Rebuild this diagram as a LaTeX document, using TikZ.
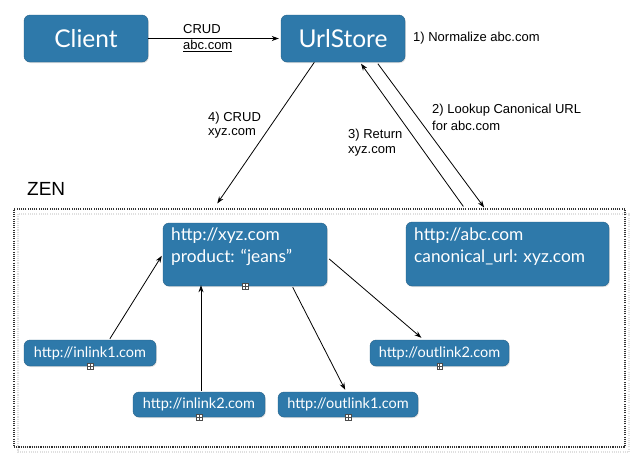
\documentclass[tikz,border=0pt]{standalone}
\usepackage{fontspec}
\setmainfont{Liberation Sans}
\newfontfamily\boxfont{Lato}
\usetikzlibrary{calc,arrows.meta,shadows}
\definecolor{boxblue}{RGB}{46,121,170}
\tikzset{
  bluebox/.style={draw=boxblue!80!black, line width=0.4pt, fill=boxblue, rounded corners=6pt, inner sep=0pt, text=white,
    drop shadow={shadow xshift=0.8pt, shadow yshift=-1pt, opacity=0.25}},
  bigtext/.style={font=\boxfont\fontsize{24.5}{28}\selectfont},
  midtext/.style={text=white, align=left, anchor=west, inner sep=0pt, font=\boxfont\fontsize{17.3}{22}\selectfont},
  smalltext/.style={font=\boxfont\fontsize{14.5}{17}\selectfont},
  lbl/.style={align=left, anchor=west, inner sep=0pt, font=\fontsize{13}{16}\selectfont},
  arr/.style={line width=0.8pt, -{Stealth[length=7pt,width=5pt]}},
  dotline/.style={dash pattern=on 1.1pt off 1.1pt, line width=1.1pt},
  plusicon/.style={draw=black!70, fill=white, minimum size=5.5pt, inner sep=0pt, line width=0.4pt,
    path picture={\draw[black!70, line width=0.4pt] (path picture bounding box.north) -- (path picture bounding box.south)
      (path picture bounding box.west) -- (path picture bounding box.east);}},
}
\begin{document}
\begin{tikzpicture}[x=1pt,y=-1pt]
\useasboundingbox[fill=white] (0,0) rectangle (633,464);

% ZEN container
\draw[gray!25, dotline] (18,214) rectangle (629,452);
\node[draw=black!80, dotline, minimum width=611pt, minimum height=238pt, inner sep=0pt] (zen) at (319.5,328) {};
\node[anchor=west, inner sep=0pt, font=\fontsize{19}{20}\selectfont] (zenlbl) at (27,189) {ZEN};

% top boxes
\node[bluebox, bigtext, minimum width=124pt, minimum height=47pt] (client) at (86,38.5) {Client};
\node[bluebox, bigtext, minimum width=124pt, minimum height=47pt] (url) at (343,38.5) {UrlStore};

% inner boxes
\node[bluebox, minimum width=164pt, minimum height=63pt] (xyz) at (245,254.5) {};
\node[midtext] (xyzt) at (171,247) {http://xyz.com\\product: “jeans”};
\node[bluebox, minimum width=203pt, minimum height=64pt] (abc) at (507.5,254) {};
\node[midtext] (abct) at (414,247) {http://abc.com\\canonical\_url: xyz.com};

\node[bluebox, smalltext, minimum width=132pt, minimum height=26pt] (in1) at (90,353) {http://inlink1.com};
\node[bluebox, smalltext, minimum width=132pt, minimum height=25pt] (in2) at (199,404.5) {http://inlink2.com};
\node[bluebox, smalltext, minimum width=140pt, minimum height=25pt] (out1) at (348,404.5) {http://outlink1.com};
\node[bluebox, smalltext, minimum width=139pt, minimum height=26pt] (out2) at (439.5,353) {http://outlink2.com};

% plus icons
\node[plusicon] (p1) at (xyz.south) {};
\node[plusicon] (p2) at (in1.south) {};
\node[plusicon] (p3) at (in2.south) {};
\node[plusicon] (p4) at (out1.south) {};
\node[plusicon] (p5) at (out2.south) {};

% top connectors
\draw[arr] (client.east) -- ([xshift=-2pt]url.west);
\node[lbl] (crud) at (183,29) {CRUD};
\node[lbl] (crudabc) at (183,46) {\underline{abc.com}};
\node[lbl] (norm) at (413,38) {1) Normalize abc.com};

\coordinate (u4) at ($(url.south west)!0.27!(url.south east)$);
\coordinate (z4) at ($(zen.north west)!0.333!(zen.north east)+(0,-5)$);
\draw[arr] (u4) -- (z4);
\node[lbl] (l4a) at (208,118) {4) CRUD};
\node[lbl] (l4b) at (208,133) {xyz.com};

\coordinate (u3) at ($(url.south west)!0.645!(url.south east)+(0,1.5)$);
\coordinate (z3) at ($(zen.north west)!0.735!(zen.north east)+(0,-2)$);
\draw[arr] (z3) -- (u3);
\node[lbl] (l3a) at (348,135) {3) Return};
\node[lbl] (l3b) at (348,151) {xyz.com};

\coordinate (u2) at ($(url.south west)!0.78!(url.south east)+(0,1.5)$);
\coordinate (z2) at ($(zen.north west)!0.769!(zen.north east)+(0,-1)$);
\draw[arr] (u2) -- (z2);
\node[lbl] (l2a) at (432,110) {2) Lookup Canonical URL};
\node[lbl] (l2b) at (432,126) {for abc.com};

% inner connectors
\draw[arr] ($(in1.north west)!0.65!(in1.north east)+(0,-1)$) -- ($(xyz.north west)!0.52!(xyz.south west)+(-1,0)$);
\coordinate (i2) at ($(in2.north west)!0.515!(in2.north east)+(0,-1)$);
\draw[arr] (i2) -- ([yshift=1pt]i2 |- xyz.south);
\draw[arr] ($(xyz.south west)!0.79!(xyz.south east)+(0,1)$) -- ($(out1.north west)!0.48!(out1.north east)+(0,-2)$);
\draw[arr] ($(xyz.north east)!0.57!(xyz.south east)+(2,0)$) -- ($(out2.north west)!0.37!(out2.north east)+(0,-2)$);
\end{tikzpicture}
\end{document}
